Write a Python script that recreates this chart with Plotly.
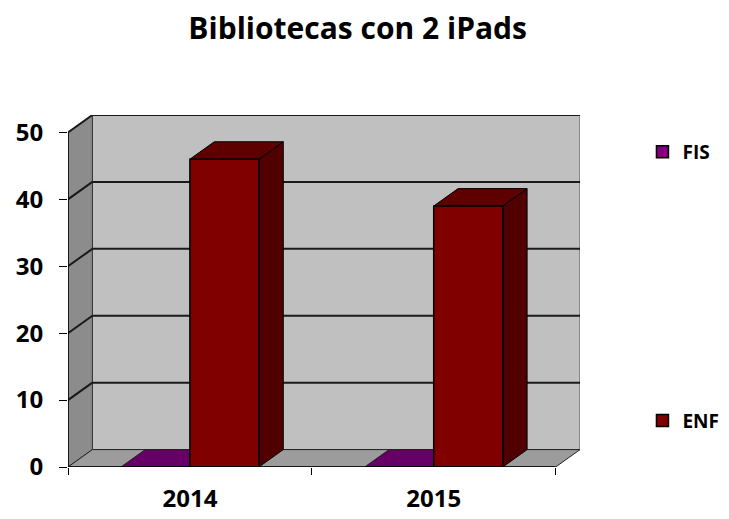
import plotly.graph_objects as go

years = ['2014', '2015']
fis = [0, 0]
enf = [46, 39]
y_ticks = [0, 10, 20, 30, 40, 50]

# fake 3D depth (data units)
DX = 0.1
DY = 2.6
BARGAP = 0.434
bw = (1 - BARGAP) / 2
x = list(range(len(years)))

font = 'Open Sans'

fig = go.Figure()
fig.add_trace(go.Bar(x=x, y=fis, name='<b>FIS</b>', legendgroup='fis',
                     marker=dict(color='#800080', line=dict(color='black', width=1.5))))
fig.add_trace(go.Bar(x=x, y=enf, name='<b>ENF</b>', legendgroup='enf',
                     marker=dict(color='#800000', line=dict(color='black', width=1.5))))

shapes = []
def poly(pts, fill, lw=1, lc='black', layer='below'):
    path = 'M ' + ' L '.join(f'{a},{b}' for a, b in pts) + ' Z'
    shapes.append(dict(type='path', path=path, xref='x', yref='y', fillcolor=fill,
                       line=dict(color=lc, width=lw), layer=layer))

def line(x0, y0, x1, y1, w=2, c='#1a1a1a', layer='below'):
    shapes.append(dict(type='line', x0=x0, y0=y0, x1=x1, y1=y1, xref='x', yref='y',
                       line=dict(color=c, width=w), layer=layer))

xl, xr = -0.5, len(years) - 0.5
ytop = y_ticks[-1]
# back wall, side wall, floor
poly([(xl + DX, DY), (xr + DX, DY), (xr + DX, ytop + DY), (xl + DX, ytop + DY)], '#c0c0c0', 1, '#555555')
poly([(xl, 0), (xl + DX, DY), (xl + DX, ytop + DY), (xl, ytop)], '#8c8c8c', 1, '#333333')
poly([(xl, 0), (xr, 0), (xr + DX, DY), (xl + DX, DY)], '#9c9c9c', 1, '#222222')
for t in y_ticks[1:]:
    line(xl + DX, t + DY, xr + DX, t + DY)
    line(xl, t, xl + DX, t + DY)

# bar tops / sides
for i in x:
    # FIS (zero height) -> floor patch
    a0, a1 = i - bw, i
    v = fis[i]
    poly([(a0, v), (a1, v), (a1 + DX, v + DY), (a0 + DX, v + DY)], '#660066', 1, '#222222')
    b0, b1 = i, i + bw
    v = enf[i]
    poly([(b1, 0), (b1 + DX, DY), (b1 + DX, v + DY), (b1, v)], '#500000')
    poly([(b0, v), (b1, v), (b1 + DX, v + DY), (b0 + DX, v + DY)], '#5e0000')

# front axis lines
line(xl, 0, xl, ytop, 1.5, 'black', 'above')
line(xl, 0, xr, 0, 1.5, 'black', 'above')

# page body has 8px margin -> figure is 721x511
fig.update_layout(
    width=721, height=511,
    margin=dict(l=60, r=149, t=107, b=52, autoexpand=False),
    paper_bgcolor='white', plot_bgcolor='white',
    barmode='group', bargap=BARGAP, bargroupgap=0,
    shapes=shapes,
    title=dict(text='<b>Bibliotecas con 2 iPads</b>', x=0.485, xref='container',
               y=0.96, yref='container', xanchor='center', yanchor='middle',
               font=dict(family=font, size=30, color='black')),
    xaxis=dict(range=[xl, xr + DX], tickvals=x, ticktext=[f'<b>{y}</b>' for y in years],
               ticks='', showgrid=False, zeroline=False, showline=False, automargin=False,
               tickfont=dict(family=font, size=24, color='black'), ticklabelstandoff=15,
               minor=dict(tickvals=[xl + k for k in range(len(years) + 1)], ticks='outside',
                          ticklen=7, tickcolor='black', tickwidth=1)),
    yaxis=dict(range=[0, ytop + DY], tickvals=y_ticks, ticktext=[f'<b>{t}</b>' for t in y_ticks],
               ticks='outside', ticklen=8, tickcolor='black', tickwidth=1, automargin=False,
               showgrid=False, zeroline=False, showline=False,
               tickfont=dict(family=font, size=24, color='black'), ticklabelstandoff=11),
    legend=dict(x=1.122, xanchor='left', y=0.949, yanchor='top', traceorder='grouped',
                tracegroupgap=241, font=dict(family=font, size=19, color='black'),
                bgcolor='rgba(0,0,0,0)'),
    hovermode=False,
)

fig.write_html('out.html')
